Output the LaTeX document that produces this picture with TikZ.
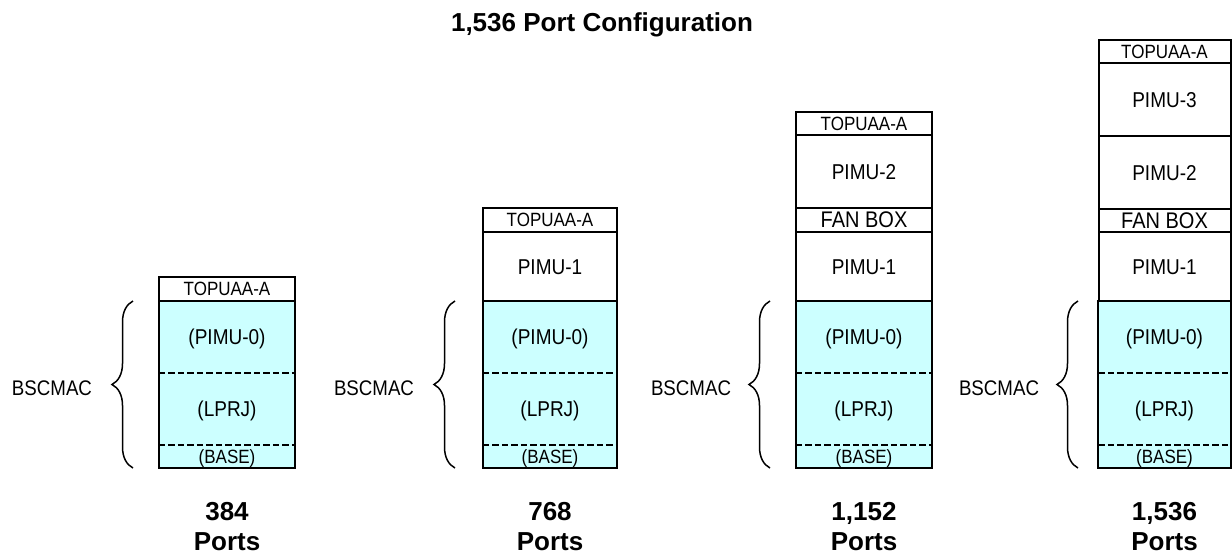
\documentclass[tikz,border=0pt]{standalone}
\usepackage{fontspec}
\usepackage{graphicx}
\setmainfont{Liberation Sans}
\usetikzlibrary{decorations.pathreplacing}
\definecolor{lcyan}{HTML}{CCFFFF}
\newcommand{\vstr}[1]{\scalebox{1}[1.13]{#1}}
\begin{document}
\begin{tikzpicture}[x=1pt,y=-1pt,
  lbl/.style={inner sep=0pt, font=\fontsize{19}{22}\selectfont, text height=15.4pt, text depth=0pt},
  sml/.style={inner sep=0pt, font=\fontsize{17}{20}\selectfont, text height=13.6pt, text depth=0pt},
  fan/.style={inner sep=0pt, font=\fontsize{20}{22}\selectfont, text height=15.6pt, text depth=0pt},
  whitecell/.style={draw=black, line width=2pt, fill=white},
  cyancell/.style={fill=lcyan},
  outline/.style={draw=black, line width=2pt},
  sep/.style={draw=black, line width=2pt, dash pattern=on 6.5pt off 3pt},
  bracestyle/.style={draw=black, line width=1.5pt, decorate, decoration={brace, amplitude=21pt}},
  bsc/.style={inner sep=0pt, font=\fontsize{18.7}{22}\selectfont, text height=15pt, text depth=0pt},
  big/.style={inner sep=0pt, font=\fontsize{26}{30}\bfseries\selectfont, text height=18.6pt, text depth=0pt},
]
\useasboundingbox (0,0) rectangle (1232,557);
\node[big] (title) at (602,22) {1,536 Port Configuration};

\foreach \i/\cx/\w/\bx/\lx/\num in {1/227/136/133/52/384, 2/550/134/455/374/768, 3/864/136/770/691/{1,152}, 4/1164.5/132/1078/999/{1,536}} {
  \node[cyancell, lbl, minimum width=\w pt, minimum height=72pt] (p0\i) at (\cx,337) {\vstr{(PIMU-0)}};
  \node[cyancell, lbl, minimum width=\w pt, minimum height=72pt] (lp\i) at (\cx,409) {\vstr{(LPRJ)}};
  \node[cyancell, sml, minimum width=\w pt, minimum height=23pt] (ba\i) at (\cx,456.5) {\vstr{(BASE)}};
  \draw[sep] (p0\i.south west) -- (p0\i.south east);
  \draw[sep] (lp\i.south west) -- (lp\i.south east);
  \draw[outline] (p0\i.north west) rectangle (ba\i.south east);
  \coordinate (bb\i) at (\bx,468);
  \coordinate (bt\i) at (\bx,301);
  \draw[bracestyle] (bb\i) -- (bt\i);
  \node[bsc] (bl\i) at (\lx,388) {\vstr{BSCMAC}};
  \node[big] (n\i) at (\cx,511) {\num};
  \node[big] (pp\i) at (\cx,541) {Ports};
}

% box 1
\node[whitecell, sml, minimum width=136pt, minimum height=24pt] (t1) at (227,289) {\vstr{TOPUAA-A}};
% box 2
\node[whitecell, sml, minimum width=134pt, minimum height=24pt] (t2) at (550,220) {\vstr{TOPUAA-A}};
\node[whitecell, lbl, minimum width=134pt, minimum height=69pt] (m12) at (550,266.5) {\vstr{PIMU-1}};
% box 3
\node[whitecell, sml, minimum width=136pt, minimum height=23pt] (t3) at (864,123.5) {\vstr{TOPUAA-A}};
\node[whitecell, lbl, minimum width=136pt, minimum height=73pt] (m23) at (864,171.5) {\vstr{PIMU-2}};
\node[whitecell, fan, minimum width=136pt, minimum height=24pt] (f3) at (864,220) {\vstr{FAN BOX}};
\node[whitecell, lbl, minimum width=136pt, minimum height=69pt] (m13) at (864,266.5) {\vstr{PIMU-1}};
% box 4
\node[whitecell, sml, minimum width=132pt, minimum height=23pt] (t4) at (1164.5,51.5) {\vstr{TOPUAA-A}};
\node[whitecell, lbl, minimum width=132pt, minimum height=73pt] (m34) at (1164.5,99.5) {\vstr{PIMU-3}};
\node[whitecell, lbl, minimum width=132pt, minimum height=73pt] (m24) at (1164.5,172.5) {\vstr{PIMU-2}};
\node[whitecell, fan, minimum width=132pt, minimum height=23pt] (f4) at (1164.5,220.5) {\vstr{FAN BOX}};
\node[whitecell, lbl, minimum width=132pt, minimum height=69pt] (m14) at (1164.5,266.5) {\vstr{PIMU-1}};
\end{tikzpicture}
\end{document}
